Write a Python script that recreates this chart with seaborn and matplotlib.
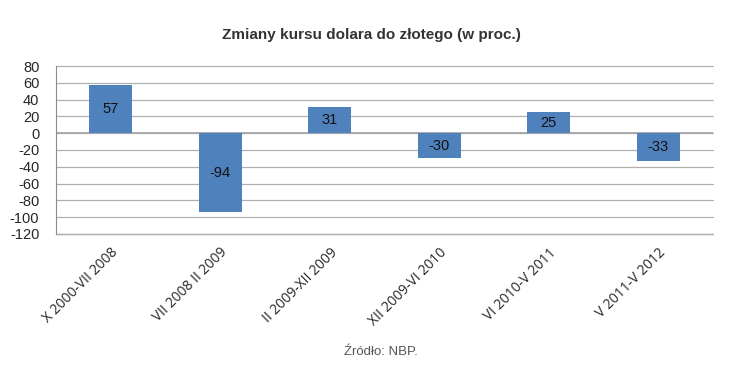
import matplotlib
matplotlib.use("Agg")
import matplotlib.pyplot as plt
import seaborn as sns
import pandas as pd

# dane z wykresu
okresy = ['X 2000-VII 2008', 'VII 2008 II 2009', 'II 2009-XII 2009',
          'XII 2009-VI 2010', 'VI 2010-V 2011', 'V 2011-V 2012']
zmiany = [57, -94, 31, -30, 25, -33]
yticks = list(range(-120, 81, 20))

sns.set_style("white")
plt.rcParams['font.family'] = ['Liberation Sans', 'DejaVu Sans']

fig = plt.figure(figsize=(7.43, 3.69), dpi=100)
ax = fig.add_axes([0.0754, 0.366, 0.8842, 0.455])

df = pd.DataFrame({'okres': okresy, 'zmiana': zmiany})
sns.barplot(data=df, x='okres', y='zmiana', color='#4f81bd', saturation=1,
            width=0.39, linewidth=0, ax=ax, zorder=3)

ax.set_ylim(-120, 80)
ax.set_yticks(yticks)
ax.set_yticklabels([str(t) for t in yticks], fontsize=10.5)
ax.yaxis.grid(True, color='#b0b0b0', linewidth=0.9, zorder=0, clip_on=False)
ax.set_axisbelow(True)
ax.axhline(-120, color='#b0b0b0', linewidth=1.0, clip_on=False)
ax.axhline(0, color='#a6a6a6', linewidth=1.3, zorder=2)
ax.set_xlabel('')
ax.set_ylabel('')
ax.tick_params(axis='y', length=0, pad=12)
ax.tick_params(axis='x', length=0, pad=8)
for s in ['top', 'right', 'bottom']:
    ax.spines[s].set_visible(False)
ax.spines['left'].set_color('#8c8c8c')

ax.set_xticks(range(len(okresy)))
ax.set_xticklabels(okresy, rotation=45, ha='right', rotation_mode='anchor',
                   fontsize=10, family=['Open Sans', 'DejaVu Sans'])

# etykiety w słupkach
for i, v in enumerate(zmiany):
    ax.text(i, v / 2, str(v), ha='center', va='center', fontsize=10.5,
            color='#111111', zorder=4)

fig.text(0.5, 0.905, 'Zmiany kursu dolara do złotego (w proc.)', ha='center',
         va='center', fontsize=11, fontweight='bold', color='#333333')
fig.text(0.512, 0.046, 'Źródło: NBP.', ha='center', va='center',
         fontsize=9.5, color='#555555')

fig.savefig('out.png', dpi=100)
